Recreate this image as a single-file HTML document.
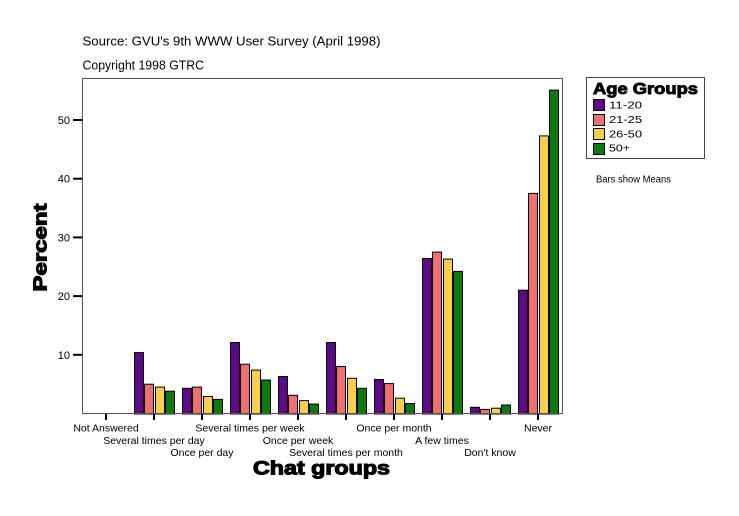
<!DOCTYPE html>
<html><head><meta charset="utf-8"><style>
html,body{margin:0;padding:0;background:#fff;}
svg{display:block;}
text{font-family:"Liberation Sans",Arial,sans-serif;fill:#000;}
</style></head><body>
<svg width="739" height="516" viewBox="0 0 739 516" xmlns="http://www.w3.org/2000/svg">
<rect x="0" y="0" width="739" height="516" fill="#fff"/>
<text x="82.5" y="45.5" font-size="13" textLength="298" lengthAdjust="spacingAndGlyphs">Source: GVU's 9th WWW User Survey (April 1998)</text>
<text x="82.5" y="69.5" font-size="13" textLength="121.5" lengthAdjust="spacingAndGlyphs">Copyright 1998 GTRC</text>

<g stroke="#000" stroke-width="1">
<!-- Several times per day c=154 -->
<rect x="134.5" y="352.5" width="9" height="61.5" fill="#5c0a8a"/>
<rect x="144.5" y="384.2" width="9" height="29.8" fill="#f07070"/>
<rect x="155.5" y="387.1" width="9" height="26.9" fill="#f8d048"/>
<rect x="165.5" y="391.2" width="9" height="22.8" fill="#0a7a0a"/>
<!-- Once per day c=202 -->
<rect x="182.5" y="388.3" width="9" height="25.7" fill="#5c0a8a"/>
<rect x="192.5" y="387.1" width="9" height="26.9" fill="#f07070"/>
<rect x="203.5" y="396.5" width="9" height="17.5" fill="#f8d048"/>
<rect x="213.5" y="399.4" width="9" height="14.6" fill="#0a7a0a"/>
<!-- Several times per week c=250 -->
<rect x="230.5" y="342.5" width="9" height="71.5" fill="#5c0a8a"/>
<rect x="240.5" y="364.2" width="9" height="49.8" fill="#f07070"/>
<rect x="251.5" y="370.1" width="9" height="43.9" fill="#f8d048"/>
<rect x="261.5" y="380.0" width="9" height="34" fill="#0a7a0a"/>
<!-- Once per week c=298 -->
<rect x="278.5" y="376.5" width="9" height="37.5" fill="#5c0a8a"/>
<rect x="288.5" y="395.3" width="9" height="18.7" fill="#f07070"/>
<rect x="299.5" y="400.6" width="9" height="13.4" fill="#f8d048"/>
<rect x="309.5" y="404.1" width="9" height="9.9" fill="#0a7a0a"/>
<!-- Several times per month c=346 -->
<rect x="326.5" y="342.5" width="9" height="71.5" fill="#5c0a8a"/>
<rect x="336.5" y="366.5" width="9" height="47.5" fill="#f07070"/>
<rect x="347.5" y="378.3" width="9" height="35.7" fill="#f8d048"/>
<rect x="357.5" y="388.3" width="9" height="25.7" fill="#0a7a0a"/>
<!-- Once per month c=394 -->
<rect x="374.5" y="379.5" width="9" height="34.5" fill="#5c0a8a"/>
<rect x="384.5" y="383.6" width="9" height="30.4" fill="#f07070"/>
<rect x="395.5" y="398.2" width="9" height="15.8" fill="#f8d048"/>
<rect x="405.5" y="403.5" width="9" height="10.5" fill="#0a7a0a"/>
<!-- A few times c=442 -->
<rect x="422.5" y="258.5" width="9" height="155.5" fill="#5c0a8a"/>
<rect x="432.5" y="252.1" width="9" height="161.9" fill="#f07070"/>
<rect x="443.5" y="259.1" width="9" height="154.9" fill="#f8d048"/>
<rect x="453.5" y="271.4" width="9" height="142.6" fill="#0a7a0a"/>
<!-- Don't know c=490 -->
<rect x="470.5" y="407.3" width="9" height="6.7" fill="#5c0a8a"/>
<rect x="480.5" y="409.4" width="9" height="4.6" fill="#f07070"/>
<rect x="491.5" y="408.2" width="9" height="5.8" fill="#f8d048"/>
<rect x="501.5" y="405.0" width="9" height="9" fill="#0a7a0a"/>
<!-- Never c=538 -->
<rect x="518.5" y="290.2" width="9" height="123.8" fill="#5c0a8a"/>
<rect x="528.5" y="193.4" width="9" height="220.6" fill="#f07070"/>
<rect x="539.5" y="135.9" width="9" height="278.1" fill="#f8d048"/>
<rect x="549.5" y="90.1" width="9" height="323.9" fill="#0a7a0a"/>
</g>

<rect x="82.5" y="78.5" width="480" height="335" fill="none" stroke="#555" stroke-width="1"/>

<!-- y ticks -->
<g stroke="#000" stroke-width="2">
<line x1="73" y1="354.8" x2="82" y2="354.8"/>
<line x1="73" y1="296.1" x2="82" y2="296.1"/>
<line x1="73" y1="237.4" x2="82" y2="237.4"/>
<line x1="73" y1="178.7" x2="82" y2="178.7"/>
<line x1="73" y1="120.0" x2="82" y2="120.0"/>
</g>
<g font-size="11" text-anchor="end">
<text x="70" y="358.8">10</text>
<text x="70" y="300.1">20</text>
<text x="70" y="241.4">30</text>
<text x="70" y="182.7">40</text>
<text x="70" y="124.0">50</text>
</g>

<!-- x ticks -->
<g stroke="#000" stroke-width="2">
<line x1="106" y1="414" x2="106" y2="420"/>
<line x1="154" y1="414" x2="154" y2="420"/>
<line x1="202" y1="414" x2="202" y2="420"/>
<line x1="250" y1="414" x2="250" y2="420"/>
<line x1="298" y1="414" x2="298" y2="420"/>
<line x1="346" y1="414" x2="346" y2="420"/>
<line x1="394" y1="414" x2="394" y2="420"/>
<line x1="442" y1="414" x2="442" y2="420"/>
<line x1="490" y1="414" x2="490" y2="420"/>
<line x1="538" y1="414" x2="538" y2="420"/>
</g>
<g font-size="10.5" text-anchor="middle">
<text x="106" y="431.5">Not Answered</text>
<text x="154" y="443.8">Several times per day</text>
<text x="202" y="456">Once per day</text>
<text x="250" y="431.5">Several times per week</text>
<text x="298" y="443.8">Once per week</text>
<text x="346" y="456">Several times per month</text>
<text x="394" y="431.5">Once per month</text>
<text x="442" y="443.8">A few times</text>
<text x="490" y="456">Don't know</text>
<text x="538" y="431.5">Never</text>
</g>

<text x="321.5" y="474.5" font-size="19" font-weight="bold" text-anchor="middle" textLength="137" lengthAdjust="spacingAndGlyphs" stroke="#000" stroke-width="1.1">Chat groups</text>
<text transform="translate(46.5,247.5) rotate(-90)" x="0" y="0" font-size="18" font-weight="bold" text-anchor="middle" textLength="88" lengthAdjust="spacingAndGlyphs" stroke="#000" stroke-width="1.1">Percent</text>

<!-- legend -->
<rect x="586.5" y="77.5" width="118" height="81" fill="#fff" stroke="#444" stroke-width="1"/>
<text x="593" y="94" font-size="15.5" font-weight="bold" textLength="105" lengthAdjust="spacingAndGlyphs" stroke="#000" stroke-width="0.9">Age Groups</text>
<g stroke="#000" stroke-width="1">
<rect x="593.5" y="99.5" width="11" height="11" fill="#5c0a8a"/>
<rect x="593.5" y="114.5" width="11" height="11" fill="#f07070"/>
<rect x="593.5" y="128.5" width="11" height="11" fill="#f8d048"/>
<rect x="593.5" y="143.5" width="11" height="11" fill="#0a7a0a"/>
</g>
<g font-size="10">
<text x="609" y="108.5" textLength="33" lengthAdjust="spacingAndGlyphs">11-20</text>
<text x="609" y="123" textLength="33" lengthAdjust="spacingAndGlyphs">21-25</text>
<text x="609" y="137.5" textLength="33" lengthAdjust="spacingAndGlyphs">26-50</text>
<text x="609" y="151.5" textLength="21" lengthAdjust="spacingAndGlyphs">50+</text>
</g>
<text x="596" y="182.5" font-size="10" textLength="75" lengthAdjust="spacingAndGlyphs">Bars show Means</text>
</svg>
</body></html>
